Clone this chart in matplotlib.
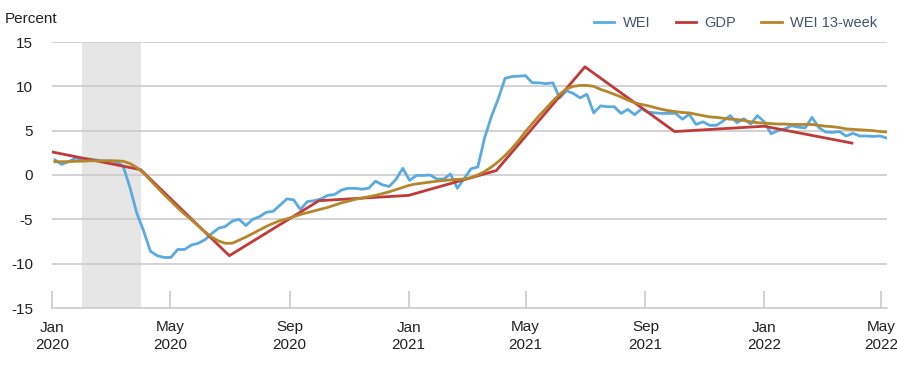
import pandas as pd
import matplotlib
matplotlib.use("Agg")
import matplotlib.pyplot as plt
import matplotlib.dates as mdates

# ---------- DATA ----------

# weekly WEI readings, first week ending 2020-01-04
wei_start = "2020-01-04"

wei = [
    1.7, 1.2, 1.5, 1.9, 1.8, 1.8, 1.7, 1.6, 1.6, 1.5,
    1.0, -1.4, -4.3, -6.3, -8.6, -9.1, -9.3, -9.3, -8.4, -8.4,
    -7.9, -7.7, -7.3, -6.6, -6.0, -5.8, -5.2, -5.0, -5.7, -5.0,
    -4.7, -4.2, -4.1, -3.4, -2.7, -2.8, -3.9, -3.0, -2.9, -2.7,
    -2.3, -2.2, -1.7, -1.5, -1.5, -1.6, -1.5, -0.7, -1.1, -1.3,
    -0.5, 0.75, -0.6, -0.05, -0.05, 0.0, -0.45, -0.45, 0.1, -1.5,
    -0.4, 0.7, 0.9, 4.2, 6.6, 8.6, 10.9, 11.1, 11.15, 11.2,
    10.4, 10.4, 10.3, 10.4, 8.7, 9.5, 9.2, 8.7, 9.1, 7.0,
    7.8, 7.7, 7.7, 6.95, 7.4, 6.8, 7.45, 7.1, 7.0, 6.95,
    6.95, 6.95, 6.3, 6.85, 5.7, 6.0, 5.6, 5.6, 6.1, 6.7,
    5.9, 6.35, 5.75, 6.7, 6.0, 4.65, 5.0, 5.2, 5.55, 5.4,
    5.3, 6.5, 5.35, 4.85, 4.8, 4.9, 4.4, 4.7, 4.4, 4.4,
    4.35, 4.4, 4.15,
]

wei_13wk = [
    1.5, 1.5, 1.5, 1.55, 1.55, 1.6, 1.6, 1.6, 1.6, 1.6,
    1.55, 1.3, 0.85, 0.2, -0.6, -1.4, -2.2, -2.95, -3.7, -4.4,
    -5.05, -5.75, -6.4, -7.0, -7.45, -7.7, -7.7, -7.35, -7.0, -6.6,
    -6.2, -5.8, -5.45, -5.15, -4.95, -4.7, -4.45, -4.25, -4.05, -3.85,
    -3.65, -3.4, -3.15, -2.95, -2.75, -2.6, -2.45, -2.3, -2.1, -1.9,
    -1.65, -1.4, -1.15, -1.0, -0.9, -0.8, -0.7, -0.62, -0.55, -0.5,
    -0.45, -0.3, 0.0, 0.4, 0.9, 1.5, 2.2, 3.0, 3.9, 4.9,
    5.8, 6.7, 7.5, 8.35, 9.1, 9.7, 10.0, 10.1, 10.1, 10.0,
    9.65, 9.4, 9.1, 8.8, 8.45, 8.15, 7.95, 7.8, 7.6, 7.4,
    7.25, 7.15, 7.05, 7.0, 6.85, 6.7, 6.55, 6.5, 6.4, 6.3,
    6.25, 6.15, 6.0, 5.9, 5.85, 5.8, 5.75, 5.75, 5.7, 5.7,
    5.7, 5.7, 5.6, 5.5, 5.45, 5.35, 5.2, 5.15, 5.1, 5.05,
    5.0, 4.9, 4.85,
]

gdp_dates = [
    "2020-01-01", "2020-04-01", "2020-07-01", "2020-10-01", "2021-01-01",
    "2021-04-01", "2021-07-01", "2021-10-01", "2022-01-01", "2022-04-01",
]
gdp = [2.6, 0.6, -9.1, -2.9, -2.3, 0.5, 12.2, 4.9, 5.5, 3.6]

recession = ("2020-02-01", "2020-04-01")

# ---------- PLOTTING ----------

plt.rcParams["font.family"] = ["Liberation Sans", "DejaVu Sans"]
plt.rcParams["axes.unicode_minus"] = False

BLUE = "#5AAAE0"
RED = "#BF3A38"
GOLD = "#B5862B"
GRID = "#CBCBCB"

weeks = pd.date_range(wei_start, periods=len(wei), freq="7D")
gdp_x = pd.to_datetime(gdp_dates)

fig = plt.figure(figsize=(8.97, 3.65), dpi=100)
ax = fig.add_axes([52 / 897, 1 - 308 / 365, 835 / 897, 266 / 365])

ax.axvspan(pd.Timestamp(recession[0]), pd.Timestamp(recession[1]),
           color="#E6E6E6", lw=0, zorder=0)

for yv in [-10, -5, 0, 5, 10, 15]:
    ax.axhline(yv, color=GRID, lw=1.2, zorder=1)

ax.plot(weeks, wei, color=BLUE, lw=2.0, label="WEI", zorder=3)
ax.plot(gdp_x, gdp, color=RED, lw=2.0, label="GDP", zorder=3)
ax.plot(weeks, wei_13wk, color=GOLD, lw=2.0, label="WEI 13-week", zorder=4)

ax.set_xlim(pd.Timestamp("2020-01-01"), weeks[-1])
ax.set_ylim(-15, 15)
ax.set_yticks([-15, -10, -5, 0, 5, 10, 15])

ax.xaxis.set_major_locator(mdates.MonthLocator(bymonth=[1, 5, 9]))
ax.xaxis.set_major_formatter(mdates.DateFormatter("%b\n%Y"))

for side in ["top", "right", "left"]:
    ax.spines[side].set_visible(False)
ax.spines["bottom"].set_color(GRID)
ax.spines["bottom"].set_linewidth(1.2)

ax.tick_params(axis="x", direction="in", length=12, width=1.2, color=GRID,
               labelsize=11, labelcolor="#222222", pad=9)
ax.tick_params(axis="y", length=0, labelsize=11, labelcolor="#222222", pad=13.5)
for lab in ax.get_xticklabels():
    lab.set_linespacing(1.3)

fig.text(5 / 897, 1 - 19 / 365, "Percent", fontsize=11, color="#222222",
         ha="left", va="center")

leg = ax.legend(loc="center right", bbox_to_anchor=(890 / 897, 1 - 23 / 365),
                bbox_transform=fig.transFigure, ncol=3, frameon=False,
                fontsize=10.5, handlelength=1.4, handletextpad=0.55,
                columnspacing=1.75)
for t in leg.get_texts():
    t.set_color("#44546A")

fig.savefig("out.png", dpi=100)
